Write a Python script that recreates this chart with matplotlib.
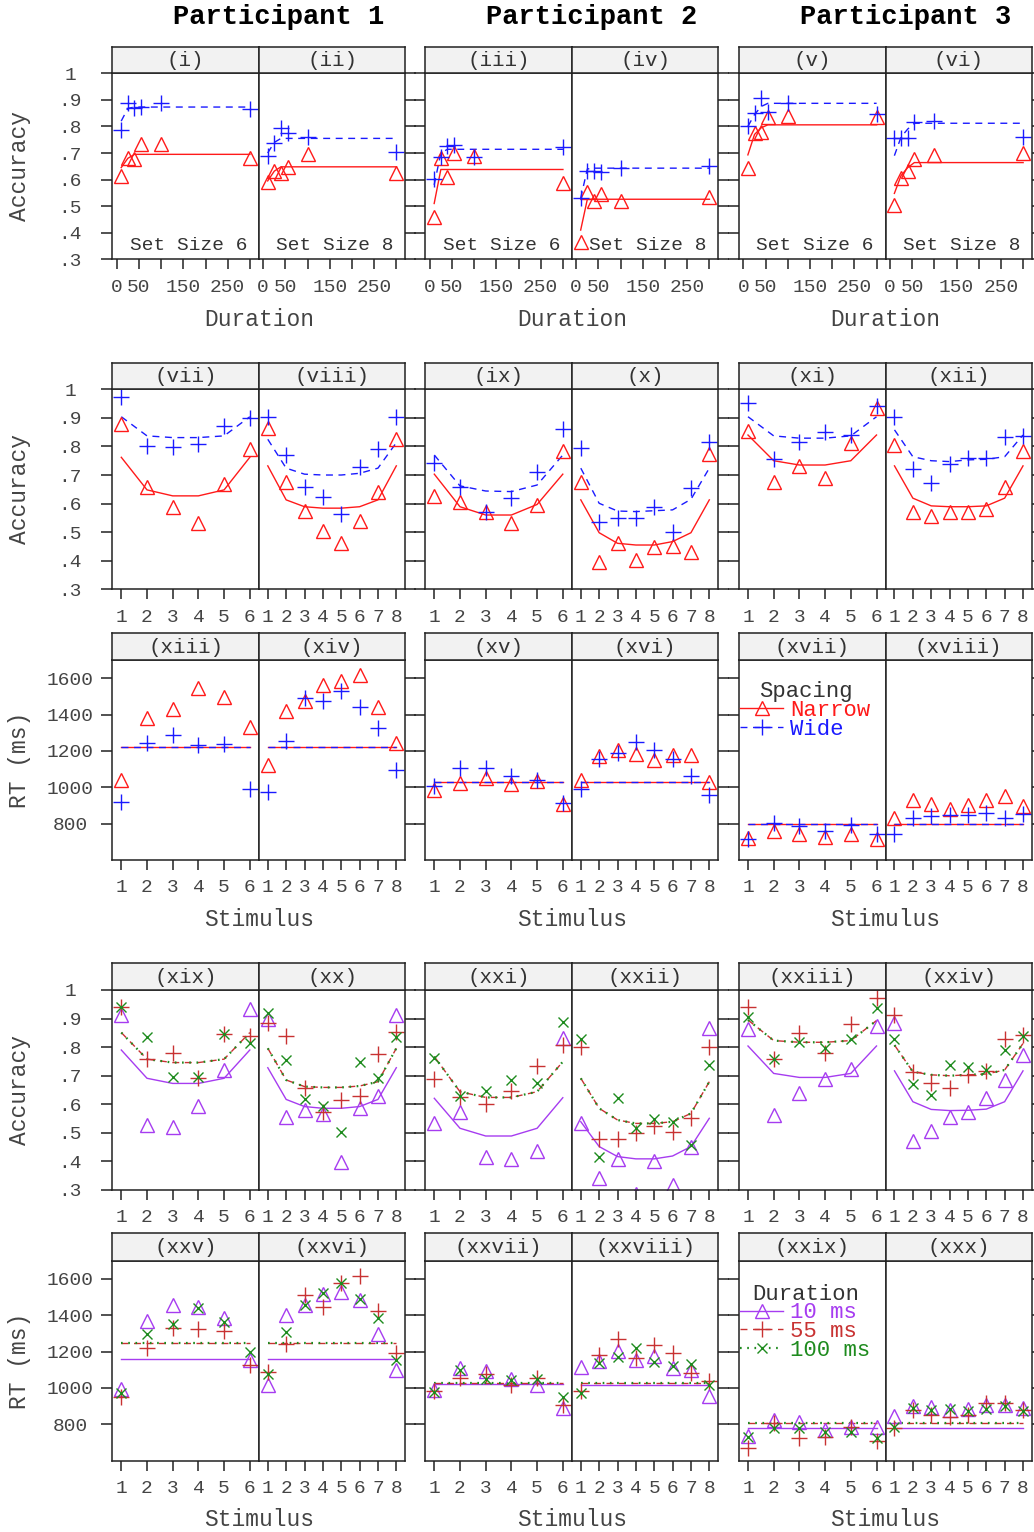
import matplotlib
matplotlib.use("Agg")
import matplotlib.pyplot as plt
from matplotlib.lines import Line2D

# ---------------------------------------------------------------- data
participants = ["Participant 1", "Participant 2", "Participant 3"]
set_sizes = [6, 8, 6, 8, 6, 8]
strip_labels = [
    ["(i)", "(ii)", "(iii)", "(iv)", "(v)", "(vi)"],
    ["(vii)", "(viii)", "(ix)", "(x)", "(xi)", "(xii)"],
    ["(xiii)", "(xiv)", "(xv)", "(xvi)", "(xvii)", "(xviii)"],
    ["(xix)", "(xx)", "(xxi)", "(xxii)", "(xxiii)", "(xxiv)"],
    ["(xxv)", "(xxvi)", "(xxvii)", "(xxviii)", "(xxix)", "(xxx)"],
]

durations = [10, 25, 40, 55, 100, 300]
dur_ticks = [0, 50, 100, 150, 200, 250, 300]
dur_tick_labels = ["0", "50", "", "150", "", "250", ""]
acc_ticks = [0.3, 0.4, 0.5, 0.6, 0.7, 0.8, 0.9, 1.0]
acc_tick_labels = [".3", ".4", ".5", ".6", ".7", ".8", ".9", "1"]
rt_ticks = [800, 1000, 1200, 1400, 1600]
rt_tick_labels = ["800", "1000", "1200", "1400", "1600"]

# Row 1: accuracy by duration (one inner list per panel i..vi)
dur_narrow_obs = [
    [0.615, 0.680, 0.676, 0.734, 0.734, 0.680],
    [0.590, 0.634, 0.626, 0.648, 0.697, 0.624],
    [0.461, 0.680, 0.611, 0.699, 0.689, 0.586],
    [0.364, 0.552, 0.520, 0.545, 0.520, 0.536],
    [0.643, 0.774, 0.780, 0.835, 0.840, 0.837],
    [0.505, 0.607, 0.632, 0.676, 0.693, 0.699],
]
dur_wide_obs = [
    [0.786, 0.890, 0.868, 0.875, 0.890, 0.865],
    [0.690, 0.739, 0.793, 0.774, 0.762, 0.703],
    [0.601, 0.686, 0.727, 0.732, 0.686, 0.722],
    [0.532, 0.634, 0.634, 0.630, 0.645, 0.653],
    [0.802, 0.852, 0.906, 0.856, 0.890, 0.847],
    [0.758, 0.758, 0.758, 0.818, 0.821, 0.762],
]
dur_narrow_fit = [
    [0.645, 0.680, 0.695, 0.695, 0.695, 0.695],
    [0.595, 0.632, 0.648, 0.648, 0.648, 0.648],
    [0.510, 0.638, 0.638, 0.638, 0.638, 0.638],
    [0.410, 0.526, 0.526, 0.526, 0.526, 0.526],
    [0.693, 0.770, 0.795, 0.806, 0.806, 0.806],
    [0.548, 0.615, 0.645, 0.664, 0.664, 0.664],
]
dur_wide_fit = [
    [0.820, 0.868, 0.873, 0.873, 0.873, 0.873],
    [0.700, 0.740, 0.755, 0.755, 0.755, 0.755],
    [0.580, 0.700, 0.714, 0.714, 0.714, 0.714],
    [0.530, 0.640, 0.643, 0.643, 0.643, 0.643],
    [0.800, 0.845, 0.875, 0.887, 0.887, 0.887],
    [0.690, 0.760, 0.790, 0.812, 0.812, 0.812],
]

# Row 2: accuracy by stimulus (panels vii..xii)
stim_narrow_obs = [
    [0.879, 0.659, 0.587, 0.533, 0.669, 0.791],
    [0.864, 0.677, 0.575, 0.505, 0.461, 0.538, 0.642, 0.825],
    [0.627, 0.607, 0.572, 0.531, 0.595, 0.785],
    [0.677, 0.394, 0.461, 0.403, 0.449, 0.452, 0.432, 0.774],
    [0.854, 0.677, 0.732, 0.689, 0.811, 0.936],
    [0.805, 0.570, 0.558, 0.570, 0.572, 0.580, 0.659, 0.785],
]
stim_wide_obs = [
    [0.974, 0.803, 0.797, 0.809, 0.873, 0.899],
    [0.902, 0.770, 0.659, 0.624, 0.564, 0.727, 0.790, 0.902],
    [0.743, 0.657, 0.572, 0.621, 0.712, 0.860],
    [0.794, 0.535, 0.549, 0.549, 0.587, 0.500, 0.654, 0.817],
    [0.951, 0.755, 0.817, 0.850, 0.840, 0.943],
    [0.904, 0.720, 0.673, 0.738, 0.761, 0.761, 0.834, 0.837],
]
stim_narrow_fit = [
    [0.762, 0.648, 0.627, 0.627, 0.648, 0.762],
    [0.732, 0.613, 0.589, 0.584, 0.584, 0.589, 0.613, 0.732],
    [0.703, 0.589, 0.560, 0.560, 0.597, 0.703],
    [0.613, 0.498, 0.461, 0.455, 0.455, 0.467, 0.498, 0.613],
    [0.840, 0.750, 0.735, 0.735, 0.750, 0.840],
    [0.732, 0.619, 0.592, 0.589, 0.589, 0.592, 0.619, 0.732],
]
stim_wide_fit = [
    [0.904, 0.837, 0.831, 0.831, 0.837, 0.904],
    [0.825, 0.724, 0.703, 0.700, 0.700, 0.706, 0.724, 0.813],
    [0.770, 0.662, 0.644, 0.642, 0.665, 0.770],
    [0.724, 0.601, 0.574, 0.572, 0.575, 0.578, 0.615, 0.724],
    [0.904, 0.837, 0.829, 0.829, 0.837, 0.904],
    [0.858, 0.764, 0.750, 0.747, 0.753, 0.755, 0.764, 0.840],
]

# Row 3: RT by stimulus (panels xiii..xviii)
rt_narrow_obs = [
    [1042, 1380, 1428, 1547, 1499, 1331],
    [1124, 1417, 1472, 1565, 1587, 1620, 1444, 1243],
    [983, 1023, 1051, 1020, 1034, 906],
    [1038, 1170, 1206, 1184, 1151, 1175, 1175, 1029],
    [723, 758, 741, 727, 741, 714],
    [831, 928, 910, 882, 901, 932, 950, 895],
]
rt_wide_obs = [
    [919, 1243, 1289, 1234, 1239, 992],
    [974, 1252, 1490, 1472, 1527, 1441, 1327, 1093],
    [1007, 1106, 1108, 1062, 1042, 913],
    [989, 1157, 1188, 1248, 1203, 1157, 1062, 956],
    [714, 804, 787, 758, 795, 745],
    [741, 833, 842, 846, 846, 859, 833, 855],
]
rt_narrow_fit = [1221, 1221, 1027, 1027, 796, 796]
rt_wide_fit = [1221, 1221, 1027, 1027, 796, 796]

# Row 4: accuracy by stimulus and duration (panels xix..xxiv)
acc10_obs = [
    [0.912, 0.527, 0.522, 0.594, 0.720, 0.932],
    [0.897, 0.557, 0.580, 0.565, 0.399, 0.586, 0.629, 0.912],
    [0.536, 0.574, 0.417, 0.407, 0.437, 0.833],
    [0.533, 0.343, 0.407, 0.285, 0.401, 0.318, 0.452, 0.866],
    [0.862, 0.562, 0.638, 0.687, 0.722, 0.875],
    [0.883, 0.473, 0.507, 0.557, 0.574, 0.621, 0.685, 0.772],
]
acc55_obs = [
    [0.942, 0.757, 0.781, 0.691, 0.845, 0.839],
    [0.883, 0.839, 0.656, 0.574, 0.615, 0.629, 0.776, 0.854],
    [0.687, 0.627, 0.601, 0.647, 0.735, 0.807],
    [0.799, 0.479, 0.479, 0.498, 0.525, 0.504, 0.551, 0.799],
    [0.939, 0.757, 0.848, 0.778, 0.880, 0.973],
    [0.912, 0.714, 0.676, 0.658, 0.703, 0.717, 0.827, 0.842],
]
acc100_obs = [
    [0.942, 0.837, 0.694, 0.697, 0.845, 0.816],
    [0.921, 0.755, 0.617, 0.595, 0.502, 0.749, 0.691, 0.837],
    [0.763, 0.629, 0.647, 0.685, 0.673, 0.889],
    [0.827, 0.417, 0.621, 0.518, 0.548, 0.539, 0.458, 0.737],
    [0.907, 0.757, 0.819, 0.796, 0.828, 0.938],
    [0.828, 0.671, 0.633, 0.737, 0.729, 0.720, 0.790, 0.840],
]
acc10_fit = [
    [0.790, 0.691, 0.673, 0.673, 0.691, 0.790],
    [0.728, 0.617, 0.592, 0.586, 0.586, 0.592, 0.617, 0.728],
    [0.621, 0.516, 0.489, 0.489, 0.516, 0.623],
    [0.539, 0.452, 0.417, 0.409, 0.409, 0.419, 0.452, 0.551],
    [0.804, 0.708, 0.694, 0.694, 0.708, 0.804],
    [0.717, 0.609, 0.582, 0.578, 0.579, 0.583, 0.609, 0.717],
]
acc55_fit = [
    [0.851, 0.758, 0.746, 0.746, 0.758, 0.851],
    [0.796, 0.685, 0.662, 0.659, 0.659, 0.664, 0.679, 0.796],
    [0.767, 0.644, 0.624, 0.624, 0.644, 0.749],
    [0.691, 0.586, 0.545, 0.533, 0.533, 0.539, 0.568, 0.679],
    [0.895, 0.823, 0.817, 0.817, 0.823, 0.893],
    [0.807, 0.714, 0.703, 0.700, 0.703, 0.706, 0.720, 0.813],
]
acc100_fit = [
    [0.851, 0.758, 0.746, 0.746, 0.758, 0.851],
    [0.796, 0.685, 0.662, 0.659, 0.659, 0.664, 0.679, 0.796],
    [0.767, 0.644, 0.624, 0.624, 0.644, 0.749],
    [0.691, 0.586, 0.545, 0.533, 0.533, 0.539, 0.568, 0.679],
    [0.895, 0.823, 0.817, 0.817, 0.823, 0.893],
    [0.807, 0.714, 0.703, 0.700, 0.703, 0.706, 0.720, 0.813],
]

# Row 5: RT by stimulus and duration (panels xxv..xxx)
rt10_obs = [
    [997, 1368, 1454, 1448, 1386, 1156],
    [1016, 1403, 1454, 1518, 1527, 1485, 1299, 1101],
    [988, 1110, 1092, 1047, 1016, 891],
    [1116, 1147, 1204, 1153, 1174, 1110, 1101, 957],
    [738, 824, 815, 769, 784, 784],
    [847, 902, 897, 879, 884, 906, 906, 888],
]
rt55_obs = [
    [952, 1222, 1330, 1322, 1313, 1129],
    [1089, 1244, 1509, 1445, 1576, 1615, 1421, 1193],
    [983, 1056, 1079, 1016, 1056, 906],
    [983, 1184, 1271, 1165, 1235, 1193, 1083, 1039],
    [672, 805, 723, 732, 787, 709],
    [778, 879, 851, 842, 851, 915, 915, 879],
]
rt100_obs = [
    [974, 1295, 1353, 1441, 1363, 1198],
    [1079, 1308, 1459, 1523, 1578, 1490, 1384, 1156],
    [979, 1098, 1052, 1043, 1048, 952],
    [975, 1138, 1171, 1222, 1143, 1120, 1134, 1016],
    [732, 782, 778, 756, 756, 723],
    [787, 891, 879, 882, 873, 884, 902, 873],
]
rt10_fit = [1158, 1158, 1021, 1019, 778, 778]
rt55_fit = [1247, 1247, 1030, 1030, 805, 805]
rt100_fit = [1247, 1247, 1030, 1030, 805, 805]

# ---------------------------------------------------------------- style
W, H, DPI = 1034, 1532, 100
plt.rcParams["font.family"] = ["Liberation Mono", "DejaVu Sans Mono"]
plt.rcParams["lines.scale_dashes"] = False

RED, BLUE = "#FF1A1A", "#1A1AFF"
PURPLE, BROWN, GREEN = "#A63CF0", "#C83232", "#1E8B1E"
TXT = "#444444"
FRAME = "#222222"
STRIP_BG = "#F2F2F2"
SPINE_LW = 1.1
LW = 1.0
MEW = 1.0
DASH = (0, (5, 4))
DOT = (0, (1.2, 4))

TICK_FS = 14
STRIP_FS = 15
LAB_FS = 16.5
LEG_FS = 16
TITLE_FS = 19.5

COL_LEFT = [112.3, 258.8, 425.3, 571.8, 739.0, 885.5]
PW = 146.5
ROWS = [(47.0, 73.3, 259.3), (362.7, 389.3, 589.3), (633.0, 660.0, 860.0),
        (963.0, 990.0, 1190.0), (1233.0, 1260.7, 1460.7)]

fig = plt.figure(figsize=(W / DPI, H / DPI), dpi=DPI)
fig.patch.set_facecolor("white")


def px_axes(left, top, width, height):
    return fig.add_axes([left / W, 1 - (top + height) / H, width / W, height / H])


def make_panel(r, c, ylim, yticks, yticklabels, xlim, xticks, xticklabels):
    strip_top, plot_top, plot_bot = ROWS[r]
    left = COL_LEFT[c]
    ax = px_axes(left, plot_top, PW, plot_bot - plot_top)
    sax = px_axes(left, strip_top, PW, plot_top - strip_top)
    sax.set_facecolor(STRIP_BG)
    sax.set_xticks([])
    sax.set_yticks([])
    for s in sax.spines.values():
        s.set_linewidth(SPINE_LW)
        s.set_color(FRAME)
    sax.text(0.5, 0.47, strip_labels[r][c], ha="center", va="center",
             fontsize=STRIP_FS, color="#333333", transform=sax.transAxes)

    for s in ax.spines.values():
        s.set_linewidth(SPINE_LW)
        s.set_color(FRAME)
    ax.set_xlim(*xlim)
    ax.set_ylim(*ylim)
    ax.set_xticks(xticks)
    ax.set_xticklabels(xticklabels)
    ax.set_yticks(yticks)
    ax.set_yticklabels(yticklabels)
    ax.tick_params(axis="x", direction="out", length=7.2, width=SPINE_LW,
                   color=FRAME, labelsize=TICK_FS, labelcolor=TXT, pad=6.8)
    ax.tick_params(axis="y", direction="out", length=7.9, width=SPINE_LW,
                   color=FRAME, labelsize=TICK_FS, labelcolor=TXT, pad=22.5)
    if c % 2 == 1:
        ax.yaxis.tick_right()
        ax.tick_params(axis="y", labelright=False)
    else:
        ax.yaxis.tick_left()
        if c != 0:
            ax.tick_params(axis="y", labelleft=False)
    for lab in ax.get_yticklabels():
        lab.set_horizontalalignment("center")
    return ax


def stim_xlim(n):
    pad = 0.07 * (n - 1)
    return (1 - pad, n + pad)


def pts(ax, x, y, color, marker, ms):
    ax.plot(x, y, ls="none", marker=marker, ms=ms, mfc="none", mec=color, mew=MEW)


def add_legend(ax, handles, labels, title, colors, anchor_y):
    leg = ax.legend(handles, labels, title=title,
                    loc="upper left", bbox_to_anchor=(0.01, anchor_y),
                    frameon=False, fontsize=LEG_FS, title_fontsize=LEG_FS,
                    labelcolor=colors, handlelength=1.9,
                    handletextpad=0.35, labelspacing=-0.1,
                    borderpad=0, borderaxespad=0)
    leg.get_title().set_color("#333333")


# Row 1 --------------------------------------------------------------
for c in range(6):
    ax = make_panel(0, c, (0.3, 1.0), acc_ticks, acc_tick_labels,
                    (-10, 320), dur_ticks, dur_tick_labels)
    ax.plot(durations, dur_narrow_fit[c], color=RED, lw=LW)
    ax.plot(durations, dur_wide_fit[c], color=BLUE, lw=LW, ls=DASH)
    pts(ax, durations, dur_narrow_obs[c], RED, "^", 9.5)
    pts(ax, durations, dur_wide_obs[c], BLUE, "+", 11)
    ax.text(0.52, 0.072, "Set Size %d" % set_sizes[c], ha="center", va="center",
            fontsize=TICK_FS, color="#333333", transform=ax.transAxes)

# Row 2 --------------------------------------------------------------
for c in range(6):
    n = set_sizes[c]
    stim = list(range(1, n + 1))
    ax = make_panel(1, c, (0.3, 1.0), acc_ticks, acc_tick_labels,
                    stim_xlim(n), stim, [str(s) for s in stim])
    ax.plot(stim, stim_narrow_fit[c], color=RED, lw=LW)
    ax.plot(stim, stim_wide_fit[c], color=BLUE, lw=LW, ls=DASH)
    pts(ax, stim, stim_narrow_obs[c], RED, "^", 9.5)
    pts(ax, stim, stim_wide_obs[c], BLUE, "+", 11)

# Row 3 --------------------------------------------------------------
for c in range(6):
    n = set_sizes[c]
    stim = list(range(1, n + 1))
    ax = make_panel(2, c, (600, 1700), rt_ticks, rt_tick_labels,
                    stim_xlim(n), stim, [str(s) for s in stim])
    ax.plot(stim, [rt_narrow_fit[c]] * n, color=RED, lw=LW)
    ax.plot(stim, [rt_wide_fit[c]] * n, color=BLUE, lw=LW, ls=DASH)
    pts(ax, stim, rt_narrow_obs[c], RED, "^", 9.5)
    pts(ax, stim, rt_wide_obs[c], BLUE, "+", 11)
    if c == 4:
        handles = [
            Line2D([], [], color=RED, lw=LW, marker="^", ms=9.5, mfc="none", mec=RED, mew=MEW),
            Line2D([], [], color=BLUE, lw=LW, ls=DASH, marker="+", ms=11, mec=BLUE, mew=MEW),
        ]
        add_legend(ax, handles, ["Narrow", "Wide"], "Spacing", [RED, BLUE], 0.895)

# Row 4 --------------------------------------------------------------
for c in range(6):
    n = set_sizes[c]
    stim = list(range(1, n + 1))
    ax = make_panel(3, c, (0.3, 1.0), acc_ticks, acc_tick_labels,
                    stim_xlim(n), stim, [str(s) for s in stim])
    ax.plot(stim, acc10_fit[c], color=PURPLE, lw=LW)
    ax.plot(stim, acc55_fit[c], color=BROWN, lw=LW, ls=DASH)
    ax.plot(stim, acc100_fit[c], color=GREEN, lw=1.6, ls=DOT)
    pts(ax, stim, acc10_obs[c], PURPLE, "^", 9.5)
    pts(ax, stim, acc55_obs[c], BROWN, "+", 11)
    pts(ax, stim, acc100_obs[c], GREEN, "x", 7.5)

# Row 5 --------------------------------------------------------------
for c in range(6):
    n = set_sizes[c]
    stim = list(range(1, n + 1))
    ax = make_panel(4, c, (600, 1700), rt_ticks, rt_tick_labels,
                    stim_xlim(n), stim, [str(s) for s in stim])
    ax.plot(stim, [rt10_fit[c]] * n, color=PURPLE, lw=LW)
    ax.plot(stim, [rt55_fit[c]] * n, color=BROWN, lw=LW, ls=DASH)
    ax.plot(stim, [rt100_fit[c]] * n, color=GREEN, lw=1.6, ls=DOT)
    pts(ax, stim, rt10_obs[c], PURPLE, "^", 9.5)
    pts(ax, stim, rt55_obs[c], BROWN, "+", 11)
    pts(ax, stim, rt100_obs[c], GREEN, "x", 7.5)
    if c == 4:
        handles = [
            Line2D([], [], color=PURPLE, lw=LW, marker="^", ms=9.5, mfc="none", mec=PURPLE, mew=MEW),
            Line2D([], [], color=BROWN, lw=LW, ls=DASH, marker="+", ms=11, mec=BROWN, mew=MEW),
            Line2D([], [], color=GREEN, lw=1.6, ls=DOT, marker="x", ms=7.5, mec=GREEN, mew=MEW),
        ]
        add_legend(ax, handles, ["10 ms", "55 ms", "100 ms"], "Duration",
                   [PURPLE, BROWN, GREEN], 0.885)

# Titles and axis labels ---------------------------------------------
group_centers = [(COL_LEFT[2 * g] + COL_LEFT[2 * g + 1] + PW) / 2 for g in range(3)]
for g, name in enumerate(participants):
    fig.text((group_centers[g] + 20) / W, 1 - 17 / H, name, ha="center", va="center",
             fontsize=TITLE_FS, fontweight="bold", color="black")

for g in range(3):
    fig.text(group_centers[g] / W, 1 - 320 / H, "Duration", ha="center", va="center",
             fontsize=LAB_FS, color=TXT)
    fig.text(group_centers[g] / W, 1 - 920 / H, "Stimulus", ha="center", va="center",
             fontsize=LAB_FS, color=TXT)
    fig.text(group_centers[g] / W, 1 - 1520 / H, "Stimulus", ha="center", va="center",
             fontsize=LAB_FS, color=TXT)

for r, lab in enumerate(["Accuracy", "Accuracy", "RT (ms)", "Accuracy", "RT (ms)"]):
    _, top, bot = ROWS[r]
    fig.text(20 / W, 1 - (top + bot) / 2 / H, lab, ha="center", va="center",
             rotation=90, fontsize=LAB_FS, color=TXT)

fig.savefig("out.png", dpi=DPI, facecolor="white")
